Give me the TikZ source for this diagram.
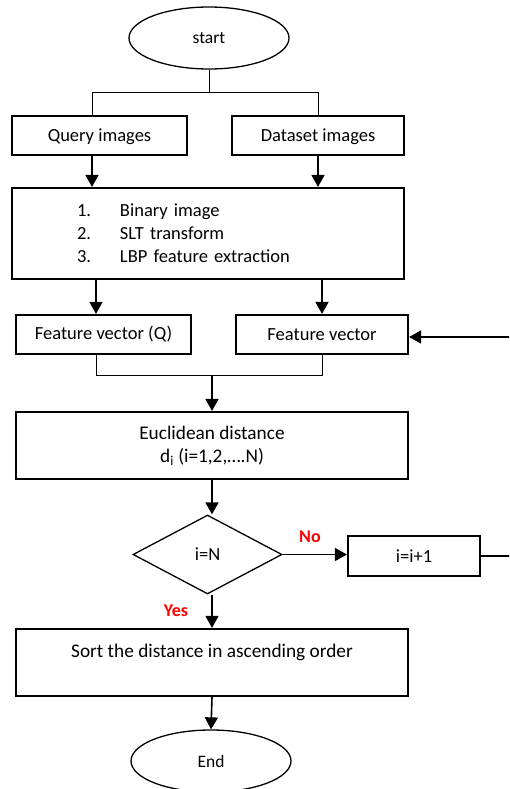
\documentclass[tikz,border=0pt]{standalone}
\usepackage{fontspec}
\setmainfont{Carlito}
\usepackage{xcolor}
\usetikzlibrary{shapes.geometric,arrows.meta}

\begin{document}
\begin{tikzpicture}[x=1pt,y=-1pt]
\tikzset{every node/.style={font=\fontsize{18.5}{23}\selectfont}}
\tikzset{blk/.style={draw,line width=2.2pt,inner sep=0pt}}
\tikzset{wide/.style={blk,minimum width=392pt,minimum height=67pt,align=center,font=\fontsize{19.3}{23}\selectfont}}
\tikzset{term/.style={ellipse,draw,line width=1.3pt,minimum width=160pt,minimum height=62pt,inner sep=0pt,font=\fontsize{17.5}{21}\selectfont}}
\tikzset{test/.style={diamond,draw,line width=1.3pt,minimum width=149pt,minimum height=79pt,inner sep=0pt}}
\tikzset{flow/.style={line width=1.6pt,-{Triangle[width=13pt,length=12pt]}}}
\tikzset{branch/.style={line width=1pt}}
\tikzset{tag/.style={text=red,font=\fontsize{18}{22}\selectfont\bfseries}}

\useasboundingbox (0,0) rectangle (509,789);
\clip (0,0) rectangle (509,789);

\node[term] (start) at (209,38) {start};
\node[blk,minimum width=175pt,minimum height=39pt,text depth=0pt] (query) at (99.5,135.5) {Query images};
\node[blk,minimum width=172pt,minimum height=39pt,text depth=0pt] (data) at (318,135.5) {Dataset images};
\node[blk,minimum height=91pt,text width=262pt,inner xsep=65pt,align=left] (steps) at (208,233.5)
  {\makebox[43pt][l]{1.}Binary image\\\makebox[43pt][l]{2.}SLT transform\\\makebox[43pt][l]{3.}LBP feature extraction};
\node[blk,minimum width=175pt,minimum height=39pt] (fvq) at (103.5,334.5) {Feature vector (Q)};
\node[blk,minimum width=172pt,minimum height=39pt] (fv) at (322,334.5) {Feature vector};
\node[wide] (eucl) at (212,445.5)
  {Euclidean distance\\d\textsubscript{i} (i=1,2,\ldots.N)};
\node[test] (dec) at (207.5,554.5) {i=N};
\node[blk,minimum width=132pt,minimum height=40pt] (inc) at (414,556) {i=i+1};
\node[wide] (sort) at (212,662.5)
  {Sort the distance in ascending order\\\mbox{}};
\node[term] (stop) at (211,761) {End};
\node[tag] (no) at (310,537) {No};
\node[tag] (yes) at (176,611) {Yes};

\coordinate (qin) at ([xshift=-7.5pt]query.north);
\coordinate (qout) at ([xshift=-7.5pt]query.south);
\coordinate (fqin) at ([xshift=-7.5pt]fvq.north);
\coordinate (fqout) at ([xshift=-7.5pt]fvq.south);
\coordinate (merge) at ([yshift=35pt]eucl.north);
\coordinate (back) at ([yshift=-2.5pt]fv.east);

\draw[branch] (start.south) -- ++(0,23) coordinate (fork);
\draw[branch] (qin) |- (fork) -| (data.north);
\draw[flow] (qout) -- (qout |- steps.north);
\draw[flow] (data.south) -- (data.south |- steps.north);
\draw[flow] (fqin |- steps.south) -- (fqin);
\draw[flow] (fv.north |- steps.south) -- (fv.north);
\draw[branch] (fqout) |- (merge) -| (fv.south);
\draw[flow] (merge) -- (eucl.north);
\draw[flow] (eucl.south) -- (eucl.south |- dec.north);
\draw[flow] (dec.east) -- (dec.east -| inc.west);
\draw[flow] (inc.east) -- ++(40,0) |- (back);
\draw[flow] (sort.north |- dec.south) -- (sort.north);
\draw[flow] (sort.south) -- (stop.north);
\end{tikzpicture}
\end{document}
